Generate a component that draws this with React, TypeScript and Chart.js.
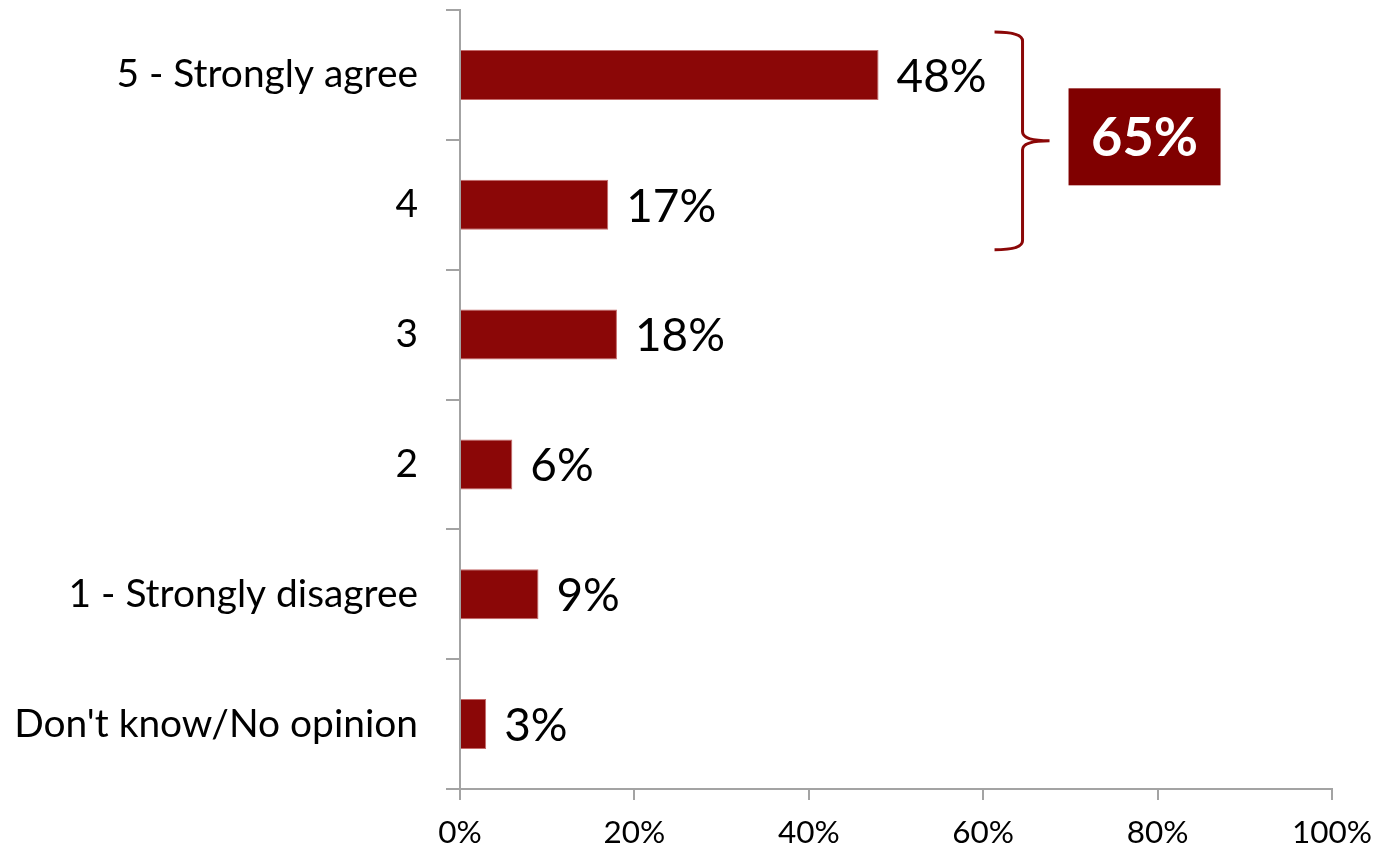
import React, { useEffect, useRef } from 'react';
import { Chart, registerables } from 'chart.js';

Chart.register(...registerables);

const categories = ['5 - Strongly agree', '4', '3', '2', '1 - Strongly disagree', "Don't know/No opinion"];
const values = [48, 17, 18, 6, 9, 3];
const xTickValues = [0, 20, 40, 60, 80, 100];
const groupIndices = [0, 1];

const FAMILY = 'Lato, Carlito, Calibri, sans-serif';
const BAR_COLOR = '#8B0707';
const BOX_COLOR = '#800000';
const AXIS_COLOR = '#A3A3A3';

function fitSize(text: string, width: number, weight = 'normal'): number {
  const ctx = document.createElement('canvas').getContext('2d')!;
  ctx.font = `${weight} 100px ${FAMILY}`;
  return (100 * width) / ctx.measureText(text).width;
}

export default function App() {
  const ref = useRef<HTMLCanvasElement | null>(null);

  useEffect(() => {
    if (!ref.current) return;
    const ySize = fitSize("Don't know/No opinion", 404);
    const xSize = fitSize('100%', 80);
    const labelSize = fitSize('48%', 90);
    const boxSize = fitSize('65%', 107, 'bold');

    const dataLabels = {
      id: 'dataLabels',
      afterDatasetsDraw(chart: any) {
        const ctx = chart.ctx;
        const meta = chart.getDatasetMeta(0);
        ctx.save();
        ctx.font = `normal ${labelSize}px ${FAMILY}`;
        ctx.fillStyle = '#000';
        ctx.textAlign = 'left';
        ctx.textBaseline = 'middle';
        meta.data.forEach((bar: any, i: number) => {
          ctx.fillText(values[i] + '%', bar.x + 18, bar.y + 2);
        });
        ctx.restore();
      },
    };

    const bracket = {
      id: 'bracket',
      afterDraw(chart: any) {
        const ctx = chart.ctx;
        const xs = chart.scales.x;
        const ys = chart.scales.y;
        const yTop = ys.getPixelForValue(groupIndices[0]) - 43;
        const yBot = ys.getPixelForValue(groupIndices[groupIndices.length - 1]) + 45;
        const yMid = (yTop + yBot) / 2;
        const x0 = xs.getPixelForValue(61.3);
        const xv = x0 + 28;
        const xTip = xv + 27;
        const r = 9;
        ctx.save();
        ctx.strokeStyle = BAR_COLOR;
        ctx.lineWidth = 3;
        ctx.beginPath();
        ctx.moveTo(x0, yTop);
        ctx.quadraticCurveTo(xv, yTop, xv, yTop + r);
        ctx.lineTo(xv, yMid - r);
        ctx.quadraticCurveTo(xv, yMid, xTip, yMid);
        ctx.quadraticCurveTo(xv, yMid, xv, yMid + r);
        ctx.lineTo(xv, yBot - r);
        ctx.quadraticCurveTo(xv, yBot, x0, yBot);
        ctx.stroke();

        const total = groupIndices.reduce((s, i) => s + values[i], 0);
        const bx = xTip + 19;
        const bw = 152;
        const bh = 97;
        const by = yMid - 4 - bh / 2;
        ctx.fillStyle = BOX_COLOR;
        ctx.fillRect(bx, by, bw, bh);
        ctx.fillStyle = '#fff';
        ctx.font = `bold ${boxSize}px ${FAMILY}`;
        ctx.textAlign = 'center';
        ctx.textBaseline = 'middle';
        ctx.fillText(total + '%', bx + bw / 2, by + bh / 2 + 2);
        ctx.restore();
      },
    };

    const chart = new Chart(ref.current, {
      type: 'bar',
      data: {
        labels: categories,
        datasets: [
          {
            data: values,
            backgroundColor: BAR_COLOR,
            borderColor: '#C46A6A',
            borderWidth: 1,
            barPercentage: 50 / 130,
            categoryPercentage: 1,
          },
        ],
      },
      options: {
        indexAxis: 'y',
        responsive: false,
        animation: false,
        layout: { padding: { top: 10, right: 59, left: 0, bottom: 0 } },
        plugins: { legend: { display: false }, tooltip: { enabled: false } },
        scales: {
          x: {
            min: 0,
            max: 100,
            afterBuildTicks: (s: any) => {
              s.ticks = xTickValues.map((v) => ({ value: v }));
            },
            ticks: {
              callback: (v: any) => v + '%',
              font: { family: FAMILY, size: xSize },
              color: '#000',
              padding: 14,
              maxRotation: 0,
            },
            grid: { drawOnChartArea: false, tickLength: 11, color: AXIS_COLOR, lineWidth: 2 },
            border: { color: AXIS_COLOR, width: 2 },
            afterFit: (s: any) => {
              s.height = 63;
              s.paddingLeft = 0;
              s.paddingRight = 0;
              s.paddingTop = 0;
              s.paddingBottom = 0;
            },
          },
          y: {
            ticks: {
              font: { family: FAMILY, size: ySize },
              color: '#000',
              padding: 28,
            },
            grid: { drawOnChartArea: false, tickLength: 14, offset: true, color: AXIS_COLOR, lineWidth: 2 },
            border: { color: AXIS_COLOR, width: 2 },
            afterFit: (s: any) => {
              s.width = 460;
              s.paddingLeft = 0;
              s.paddingRight = 0;
              s.paddingTop = 0;
              s.paddingBottom = 0;
            },
          },
        },
      },
      plugins: [dataLabels, bracket],
    } as any);

    return () => chart.destroy();
  }, []);

  return (
    <div style={{ position: 'fixed', left: 0, top: 0, width: 1391, height: 852, background: '#fff' }}>
      <canvas ref={ref} width={1391} height={852} />
    </div>
  );
}
